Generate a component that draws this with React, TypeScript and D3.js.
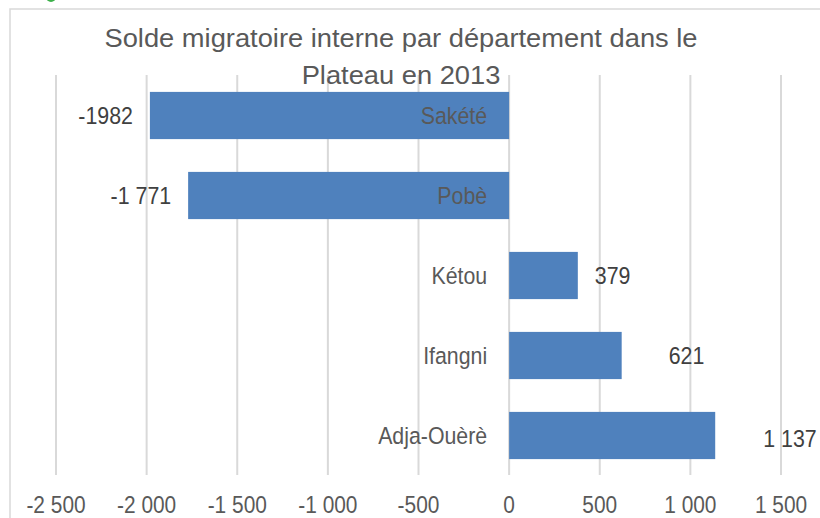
import React, { useRef, useEffect } from 'react';
import * as d3 from 'd3';

const departements = ['Sakété', 'Pobè', 'Kétou', 'Ifangni', 'Adja-Ouèrè'];
const soldes = [-1982, -1771, 379, 621, 1137];
const soldeLabels = ['-1982', '-1 771', '379', '621', '1 137'];
const ticks = [-2500, -2000, -1500, -1000, -500, 0, 500, 1000, 1500];
const titleLines = ['Solde migratoire interne par département dans le', 'Plateau en 2013'];

// label nudges as placed in the original chart
const labelGap = [17, 17, 17, 47, 48];
const labelDy = [0, 0, 0, 0, 3];

const fmt = (v: number) => {
    const s = Math.abs(v).toString().replace(/\B(?=(\d{3})+(?!\d))/g, ' ');
    return (v < 0 ? '-' : '') + s;
};

const FONT = '"Liberation Sans", Arial, sans-serif';

// text squeezed horizontally to mimic the narrow office font
const addText = (g, x, y, txt, opts) => {
    const { size, sx, anchor, fill } = opts;
    g.append('text')
        .attr('transform', `translate(${x},${y}) scale(${sx},1)`)
        .attr('text-anchor', anchor)
        .attr('font-family', FONT)
        .attr('font-size', size)
        .attr('fill', fill)
        .text(txt);
};

const App = () => {
    const ref = useRef<SVGSVGElement>(null);

    useEffect(() => {
        const width = 820;
        const height = 518;
        const grey = '#595959';

        const svg = d3.select(ref.current);
        svg.selectAll('*').remove();
        svg.attr('width', width).attr('height', height);

        svg.append('rect')
            .attr('width', width).attr('height', height)
            .attr('fill', '#fff');

        // chart frame
        svg.append('rect')
            .attr('x', 10).attr('y', 9)
            .attr('width', width + 20).attr('height', height + 20)
            .attr('fill', 'none')
            .attr('stroke', '#d9d9d9')
            .attr('stroke-width', 1.5);

        svg.append('circle')
            .attr('cx', 51).attr('cy', -3).attr('r', 5)
            .attr('fill', '#3cb04a');

        const x = d3.scaleLinear().domain([-2500, 1500]).range([56, 781]);
        const y = d3.scaleBand()
            .domain(departements)
            .range([75.5, 475.5])
            .paddingInner(0.41)
            .paddingOuter(0.205);

        // gridlines
        svg.append('g')
            .selectAll('line')
            .data(ticks)
            .enter()
            .append('line')
            .attr('x1', d => x(d)).attr('x2', d => x(d))
            .attr('y1', 75).attr('y2', 475)
            .attr('stroke', '#d9d9d9')
            .attr('stroke-width', 2);

        const tickG = svg.append('g');
        ticks.forEach(t => {
            addText(tickG, x(t), 512.5, fmt(t), { size: 24, sx: 0.87, anchor: 'middle', fill: grey });
        });

        const data = departements.map((d, i) => ({ name: d, value: soldes[i], label: soldeLabels[i], i }));

        svg.append('g')
            .selectAll('rect')
            .data(data)
            .enter()
            .append('rect')
            .attr('x', d => x(Math.min(0, d.value)))
            .attr('y', d => y(d.name)!)
            .attr('width', d => Math.abs(x(d.value) - x(0)))
            .attr('height', y.bandwidth())
            .attr('fill', '#4f81bd');

        // category labels, right-aligned against the zero line
        const catG = svg.append('g');
        data.forEach(d => {
            const cy = y(d.name)! + y.bandwidth() / 2;
            addText(catG, x(0) - 22, cy + 8, d.name, { size: 24.5, sx: 0.87, anchor: 'end', fill: grey });
        });

        // value labels
        const valG = svg.append('g');
        data.forEach(d => {
            const cy = y(d.name)! + y.bandwidth() / 2;
            const neg = d.value < 0;
            const lx = neg ? x(d.value) - labelGap[d.i] : x(d.value) + labelGap[d.i];
            addText(valG, lx, cy + 8 + labelDy[d.i], d.label, { size: 24, sx: 0.89, anchor: neg ? 'end' : 'start', fill: '#404040' });
        });

        const titleG = svg.append('g');
        titleLines.forEach((t, i) => {
            addText(titleG, 401, 47 + i * 36.5, t, { size: 26.5, sx: 1.03, anchor: 'middle', fill: grey });
        });
    }, []);

    return (
        <svg ref={ref} style={{ position: 'absolute', left: 0, top: 0, display: 'block' }}></svg>
    );
};

export default App;
